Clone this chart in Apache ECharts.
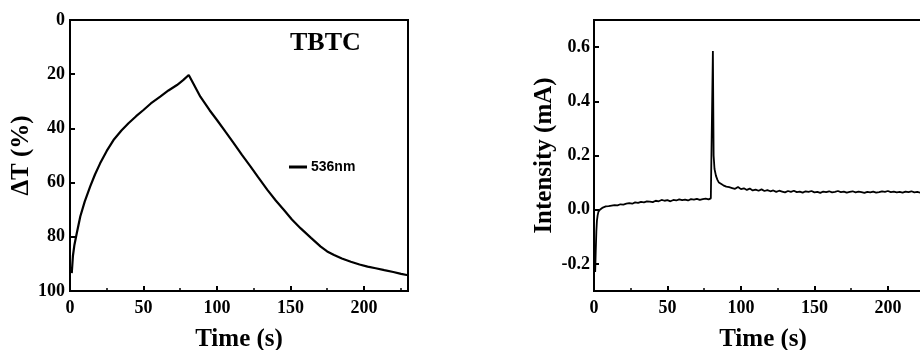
<!DOCTYPE html>
<html>
<head>
<meta charset="utf-8">
<script src="https://cdn.jsdelivr.net/npm/echarts@6/dist/echarts.min.js"></script>
<style>
  html, body { margin: 0; padding: 0; background: #fff; }
  #chart { width: 920px; height: 350px; }
</style>
</head>
<body>
<div id="chart"></div>
<script>
// left panel: transmittance change at 536 nm (y axis inverted)
const transTime = [
  1.2, 2, 3, 4.6, 7, 10, 13.7, 17, 20.5, 25, 29.6, 35, 39.8, 45, 50, 55, 61.4, 67, 72.8, 77, 80.8,
  84, 88.7, 95, 100, 106, 111.5, 117, 122.9, 128, 134.3, 140, 145.6, 151, 157, 164, 170.6, 175,
  179.7, 185, 191.1, 197, 202.5, 208, 213.9, 220, 225.3, 230
]
const transValues = [
  93.4, 87, 83, 78.7, 72.5, 67, 61.5, 57, 52.9, 48.3, 44.3, 40.8, 38.1, 35.5, 33.2, 30.8, 28.3, 26, 24, 22.2, 20.3,
  23.5, 28.3, 33.3, 36.9, 41.4, 45.5, 49.8, 54.1, 58, 62.7, 66.6, 70.1, 73.6, 76.9, 80.4, 83.6, 85.4,
  86.7, 88, 89.2, 90.2, 91, 91.6, 92.3, 93, 93.7, 94.2
]

// right panel: current response
const currTime = [
  0.8, 1.2, 1.6, 2, 2.5, 3, 4, 5, 6, 7, 8, 10, 12, 14, 16, 18, 20, 22, 24, 26, 28, 30,
  32, 34, 36, 38, 40, 42, 44, 46, 48, 50, 52, 54, 56, 58, 60, 62, 64, 66, 68, 70, 72, 74,
  76, 78, 79.5, 80.6, 80.9, 81.4, 82, 83, 84, 85, 86, 88, 90, 92, 94, 96, 98, 100,
  102, 104, 106, 108, 110, 112, 114, 116, 118, 120, 122, 124, 126, 128, 130, 132, 134, 136, 138, 140,
  142, 144, 146, 148, 150, 152, 154, 156, 158, 160, 162, 164, 166, 168, 170, 172, 174, 176, 178, 180,
  182, 184, 186, 188, 190, 192, 194, 196, 198, 200, 202, 204, 206, 208, 210, 212, 214, 216, 218, 220,
  222, 224, 226, 228, 230
]
const currValues = [
  -0.23, -0.15, -0.08, -0.04, -0.02, -0.008, 0.0, 0.005, 0.008, 0.01, 0.012, 0.013, 0.015, 0.017, 0.016, 0.02, 0.019, 0.022, 0.024, 0.022, 0.027, 0.025,
  0.029, 0.027, 0.031, 0.03, 0.028, 0.033, 0.031, 0.036, 0.033, 0.035, 0.031, 0.036, 0.034, 0.038, 0.035, 0.037, 0.034, 0.039, 0.037, 0.04, 0.036, 0.039,
  0.041, 0.038, 0.042, 0.045, 0.586, 0.2, 0.15, 0.125, 0.11, 0.1, 0.095, 0.09, 0.085, 0.083, 0.08, 0.077, 0.084, 0.076,
  0.079, 0.073, 0.078, 0.071, 0.074, 0.07, 0.075, 0.069, 0.072, 0.068, 0.071, 0.066, 0.07, 0.067, 0.064, 0.069, 0.066, 0.07, 0.065, 0.067,
  0.063, 0.068, 0.066, 0.069, 0.064, 0.066, 0.062, 0.067, 0.065, 0.068, 0.064, 0.066, 0.069, 0.065, 0.067, 0.063, 0.066, 0.068, 0.064, 0.067,
  0.065, 0.062, 0.066, 0.064, 0.067, 0.063, 0.065, 0.068, 0.066, 0.069, 0.065, 0.067, 0.064, 0.066, 0.063, 0.067, 0.065, 0.068, 0.064, 0.066,
  0.063, 0.067, 0.065, 0.066, 0.064
]

const xTicks = [0, 50, 100, 150, 200]
const transTicks = [0, 20, 40, 60, 80, 100]
const currTicks = [-0.2, 0, 0.2, 0.4, 0.6]

const serif = 'Liberation Serif'
const black = '#000'

const chart = echarts.init(document.getElementById('chart'))

const axisLine = { show: true, onZero: false, lineStyle: { color: black, width: 2 } }
const axisTick = { show: true, inside: true, length: 5, lineStyle: { color: black, width: 2 } }
const tickLabel = { color: black, fontFamily: serif, fontWeight: 'bold', fontSize: 18 }
const nameStyle = { color: black, fontFamily: serif, fontWeight: 'bold', fontSize: 25 }

const xAxis = (gridIndex) => ({
  gridIndex,
  type: 'value',
  min: 0,
  max: 230,
  interval: 50,
  axisLine,
  axisTick,
  minorTick: { show: true, splitNumber: 2, length: 3, lineStyle: { color: black, width: 1.5 } },
  splitLine: { show: false },
  axisLabel: { ...tickLabel, margin: 8, customValues: xTicks },
  name: 'Time (s)',
  nameLocation: 'middle',
  nameGap: 36,
  nameTextStyle: nameStyle
})

const gridBase = {
  top: 20,
  width: 338,
  height: 271,
  show: true,
  borderColor: black,
  borderWidth: 2,
  containLabel: false,
  outerBoundsMode: 'none'
}

const option = {
  animation: false,
  title: {
    text: 'TBTC',
    left: 285,
    top: 25,
    textStyle: { color: black, fontFamily: serif, fontWeight: 'bold', fontSize: 26 }
  },
  legend: {
    data: ['536nm'],
    left: 289,
    top: 160,
    padding: 0,
    icon: 'rect',
    itemWidth: 18,
    itemHeight: 3,
    itemGap: 4,
    textStyle: { color: black, fontFamily: 'Liberation Sans', fontWeight: 'bold', fontSize: 14, padding: [0, 0, 0, -1] }
  },
  grid: [
    { ...gridBase, left: 70 },
    { ...gridBase, left: 594 }
  ],
  xAxis: [xAxis(0), xAxis(1)],
  yAxis: [
    {
      gridIndex: 0,
      type: 'value',
      inverse: true,
      min: 0,
      max: 100,
      interval: 20,
      axisLine,
      axisTick,
      splitLine: { show: false },
      axisLabel: { ...tickLabel, margin: 5, customValues: transTicks },
      name: 'ΔT (%)',
      nameLocation: 'middle',
      nameGap: 35,
      nameTextStyle: nameStyle
    },
    {
      gridIndex: 1,
      type: 'value',
      min: -0.3,
      max: 0.7,
      axisLine,
      axisTick: { ...axisTick, customValues: currTicks },
      splitLine: { show: false },
      axisLabel: {
        ...tickLabel,
        margin: 4,
        customValues: currTicks,
        formatter: (v) => v.toFixed(1)
      },
      name: 'Intensity (mA)',
      nameLocation: 'middle',
      nameGap: 37,
      nameTextStyle: nameStyle
    }
  ],
  series: [
    {
      name: '536nm',
      type: 'line',
      xAxisIndex: 0,
      yAxisIndex: 0,
      data: transTime.map((t, i) => [t, transValues[i]]),
      showSymbol: false,
      itemStyle: { color: black },
      lineStyle: { color: black, width: 2.2 }
    },
    {
      name: 'current',
      type: 'line',
      xAxisIndex: 1,
      yAxisIndex: 1,
      data: currTime.map((t, i) => [t, currValues[i]]),
      showSymbol: false,
      itemStyle: { color: black },
      lineStyle: { color: black, width: 1.8 }
    }
  ]
}

chart.setOption(option)
</script>
</body>
</html>
